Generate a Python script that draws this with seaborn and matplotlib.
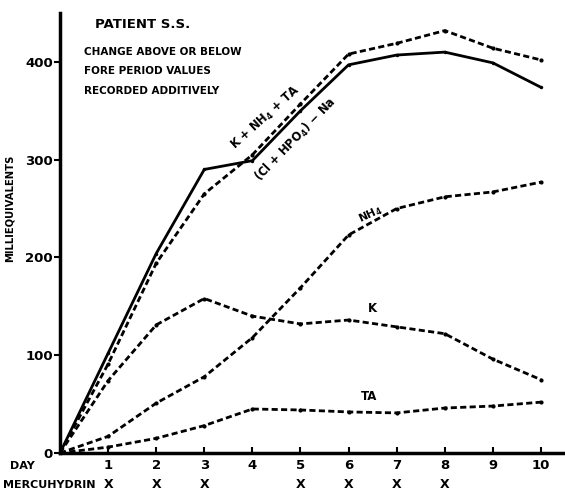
import matplotlib
matplotlib.use("Agg")
import matplotlib.pyplot as plt
import matplotlib.transforms as mtransforms
import seaborn as sns
import pandas as pd

days = [0, 1, 2, 3, 4, 5, 6, 7, 8, 9, 10]
cl_hpo4_na = [0, 102, 204, 290, 299, 350, 397, 407, 410, 399, 374]
k_nh4_ta = [0, 91, 194, 265, 305, 357, 408, 419, 432, 414, 402]
nh4 = [0, 17, 51, 78, 118, 169, 223, 250, 262, 267, 277]
k = [0, 74, 131, 158, 140, 132, 136, 129, 122, 96, 75]
ta = [0, 6, 15, 28, 45, 44, 42, 41, 46, 48, 52]
mercuhydrin_days = [1, 2, 3, 5, 6, 7, 8]
yticks = [0, 100, 200, 300, 400]

sns.set_style("white")
plt.rcParams['font.family'] = ['DejaVu Sans']
plt.rcParams['text.color'] = 'black'
plt.rcParams['axes.labelcolor'] = 'black'
plt.rcParams['xtick.color'] = 'black'
plt.rcParams['ytick.color'] = 'black'
plt.rcParams['mathtext.default'] = 'bf'

fig = plt.figure(figsize=(5.65, 4.92), dpi=100)
ax = fig.add_axes([60/565, 39/492, 505/565, 440/492])

series = {
    "(Cl + HPO4) - Na": cl_hpo4_na,
    "K + NH4 + TA": k_nh4_ta,
    "NH4": nh4,
    "K": k,
    "TA": ta,
}
rows = []
for name, vals in series.items():
    for d, v in zip(days, vals):
        rows.append({"day": d, "value": v, "series": name})
df = pd.DataFrame(rows)

for name in series:
    sub = df[df["series"] == name]
    if name.startswith("(Cl"):
        sns.lineplot(data=sub, x="day", y="value", ax=ax, color="black", lw=2.0,
                     marker="o", markersize=2.5, markeredgewidth=0)
    else:
        sns.lineplot(data=sub, x="day", y="value", ax=ax, color="black", lw=2.0,
                     dashes=False, marker="o", markersize=3, markeredgewidth=0)
        ax.lines[-1].set_linestyle((0, (2.2, 1.2)))

ax.set_xlim(0, 10.5)
ax.set_ylim(0, 450)
ax.set_xlabel("")
ax.set_ylabel("MILLIEQUIVALENTS", fontsize=7.2, fontweight="bold", color="black")
ax.yaxis.set_label_coords(-0.089, 0.555)

for s in ["top", "right"]:
    ax.spines[s].set_visible(False)
ax.spines["left"].set_linewidth(2.5)
ax.spines["bottom"].set_linewidth(2.5)
ax.spines["left"].set_color("black")
ax.spines["bottom"].set_color("black")

ax.set_yticks(yticks)
ax.set_yticklabels([str(t) for t in yticks], fontsize=9.5, fontweight="bold", color="black")
ax.tick_params(axis="y", direction="out", length=4, width=1.5, pad=1, left=True, colors="black")
ax.set_xticks(days[1:])
ax.set_xticklabels([str(d) for d in days[1:]], fontsize=9.5, fontweight="bold", color="black")
ax.tick_params(axis="x", direction="in", length=4, width=1.5, pad=4, bottom=True, colors="black")

bt = mtransforms.blended_transform_factory(ax.transData, fig.transFigure)
fig.text(22/565, 1 - 466/492, "DAY", fontsize=8, fontweight="bold", ha="center", va="center", color="black")
fig.text(3/565, 1 - 485/492, "MERCUHYDRIN", fontsize=8, fontweight="bold", ha="left", va="center", color="black")
for d in mercuhydrin_days:
    ax.text(d, 1 - 485/492, "X", transform=bt, fontsize=9, fontweight="bold",
            ha="center", va="center", clip_on=False, color="black")

# annotations
fig.text(95/565, 1 - 25/492, "PATIENT S.S.", fontsize=9.5, fontweight="bold", va="center", color="black")
fig.text(84/565, 1 - 52/492, "CHANGE ABOVE OR BELOW", fontsize=7.5, fontweight="bold", va="center", color="black")
fig.text(84/565, 1 - 71/492, "FORE PERIOD VALUES", fontsize=7.5, fontweight="bold", va="center", color="black")
fig.text(84/565, 1 - 91/492, "RECORDED ADDITIVELY", fontsize=7.5, fontweight="bold", va="center", color="black")

ax.text(4.28, 343, r"K + NH$_{4}$ + TA", rotation=42, fontsize=8.3, fontweight="bold",
        ha="center", va="center", color="black")
ax.text(4.89, 320, r"(Cl + HPO$_{4}$) $-$ Na", rotation=46, fontsize=8.3, fontweight="bold",
        ha="center", va="center", color="black")
ax.text(6.45, 244, r"NH$_{4}$", rotation=25, fontsize=7.8, fontweight="bold",
        ha="center", va="center", color="black")
ax.text(6.5, 148, "K", fontsize=8.5, fontweight="bold", ha="center", va="center", color="black")
ax.text(6.42, 58, "TA", fontsize=8.5, fontweight="bold", ha="center", va="center", color="black")

fig.savefig("out.png", dpi=100)
